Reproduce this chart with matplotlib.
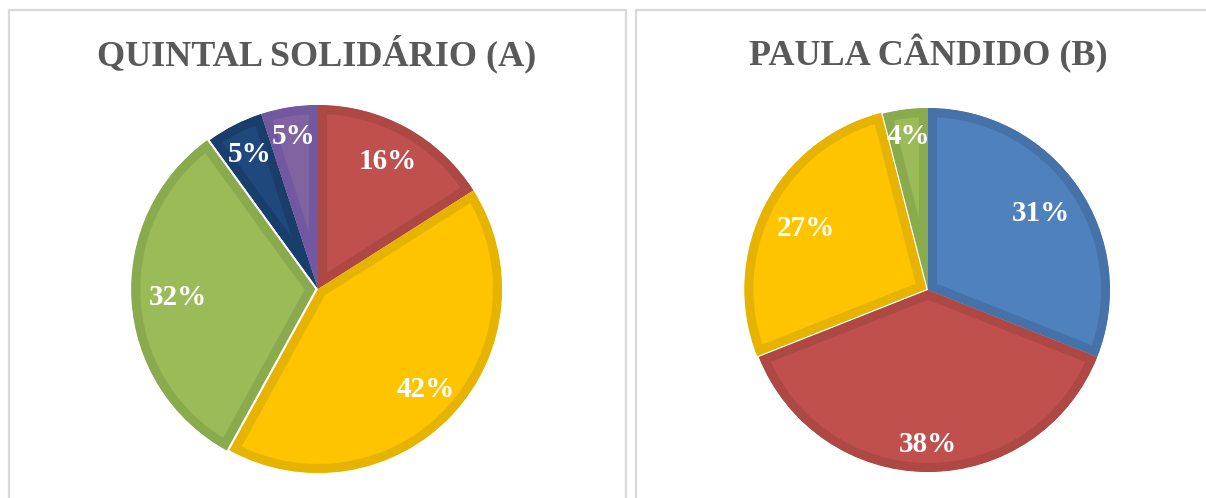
import matplotlib.pyplot as plt
from matplotlib.patches import Rectangle
import numpy as np

W, H = 1206, 498

# chart A - Quintal Solidário
title_a = 'QUINTAL SOLIDÁRIO (A)'
values_a = [16, 42, 32, 5, 5]
colors_a = ['#C0504D', '#FFC400', '#9BBB59', '#1F497D', '#8064A2']
edges_a = ['#AD4845', '#E6B400', '#8AAA4E', '#1A3E6B', '#7258A0']
explode_a = [0, 0, 0.015, 0, 0]
labdist_a = [0.79, 0.80, 0.75, 0.82, 0.84]

# chart B - Paula Cândido
title_b = 'PAULA CÂNDIDO (B)'
values_b = [31, 38, 27, 4]
colors_b = ['#4F81BD', '#C0504D', '#FFC400', '#9BBB59']
edges_b = ['#4572A9', '#AD4845', '#E6B400', '#8AAA4E']
explode_b = [0, 0, 0.01, 0]
labdist_b = [0.75, 0.85, 0.74, 0.85]

SERIF = ['Liberation Serif', 'DejaVu Serif']


def px_axes(fig, cx, cy, r):
    # cx, cy in pixels from top-left
    return fig.add_axes([(cx - r) / W, (H - cy - r) / H, 2 * r / W, 2 * r / H])


def draw_pie(ax, values, colors, edges, explode, labdist):
    wedges, _, autotexts = ax.pie(values, colors=colors, explode=explode,
                                  startangle=90, counterclock=False,
                                  autopct='%d%%', pctdistance=0.8,
                                  textprops=dict(color='white', fontsize=21,
                                                 fontweight='bold', family=SERIF))
    for w, ec in zip(wedges, edges):
        w.set_edgecolor(ec)
        w.set_linewidth(13)
        w.set_joinstyle('miter')
        # keep only the inner half of the stroke (pie turns clipping off)
        w.set_clip_path(w)
        w.set_clip_on(True)
    for w, t, d in zip(wedges, autotexts, labdist):
        ang = np.deg2rad((w.theta1 + w.theta2) / 2)
        cx, cy = w.center
        t.set_position((cx + d * np.cos(ang), cy + d * np.sin(ang)))
    ax.set_axis_off()
    ax.set_aspect('equal', adjustable='box')
    ax.set_xlim(-1.1, 1.1)
    ax.set_ylim(-1.1, 1.1)


fig = plt.figure(figsize=(W / 100, H / 100), dpi=100)
fig.patch.set_facecolor('white')

# panel borders
for x0, x1 in [(9, 626), (636, 1220)]:
    fig.add_artist(Rectangle((x0 / W, -0.05), (x1 - x0) / W, (H - 10) / H + 0.05,
                             transform=fig.transFigure, fill=False,
                             edgecolor='#D9D9D9', linewidth=1.6))

ax_a = px_axes(fig, 318, 289, 184 * 1.1)
draw_pie(ax_a, values_a, colors_a, edges_a, explode_a, labdist_a)

ax_b = px_axes(fig, 928, 290, 182 * 1.1)
draw_pie(ax_b, values_b, colors_b, edges_b, explode_b, labdist_b)

for cx, title in [(317, title_a), (928, title_b)]:
    fig.text(cx / W, 1 - 54 / H, title, ha='center', va='center',
             fontsize=26, fontweight='bold', color='#595959', family=SERIF)

fig.savefig('out.png', dpi=100)
